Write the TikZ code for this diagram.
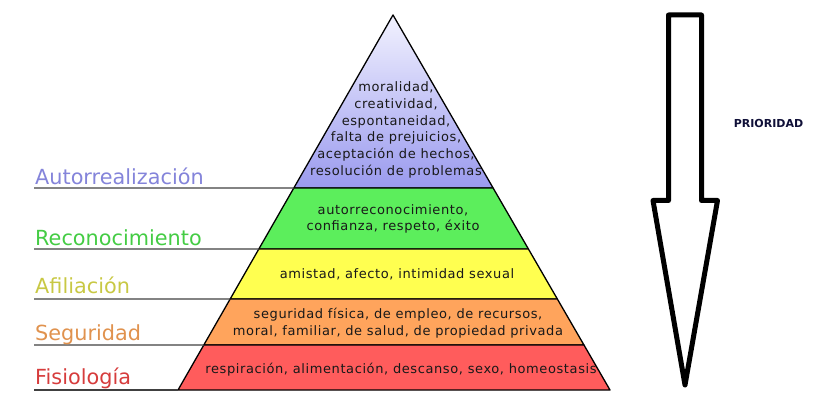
\documentclass[tikz,border=0pt]{standalone}
\usepackage{fontspec}
\setmainfont{DejaVu Sans}
\usetikzlibrary{calc}
\definecolor{selfblue}{HTML}{9A9AEE}
\definecolor{selfpale}{HTML}{F2F2FF}
\definecolor{estgreen}{HTML}{5CEE5C}
\definecolor{estpale}{HTML}{9CF89C}
\definecolor{afyellow}{HTML}{FFFF50}
\definecolor{afpale}{HTML}{FFFF90}
\definecolor{segorange}{HTML}{FFA45C}
\definecolor{segpale}{HTML}{FFC088}
\definecolor{fisred}{HTML}{FF5C5C}
\definecolor{fispale}{HTML}{FF8A8A}
\definecolor{tagblue}{HTML}{8484DA}
\definecolor{taggreen}{HTML}{44CC44}
\definecolor{tagyellow}{HTML}{C8C844}
\definecolor{tagorange}{HTML}{E0924E}
\definecolor{tagred}{HTML}{D63C3C}
\definecolor{navy}{HTML}{101038}
\newfontfamily\needfont[LetterSpace=4.6]{DejaVu Sans}

\begin{document}
\begin{tikzpicture}[x=1pt,y=-1pt,line join=round,
  layer/.style={draw=black,line width=1.3pt},
  need/.style={font=\needfont\fontsize{13}{16.7}\selectfont,text=black!90,align=center,inner sep=0pt},
  tag/.style={font=\fontsize{20.8}{21}\selectfont,anchor=base west,inner sep=0pt},
  rule/.style={draw=black!75,line width=1.2pt}]
\useasboundingbox (0,0) rectangle (822,414);
\coordinate (top) at (393,15);
\coordinate (bl) at (178,390);
\coordinate (br) at (610,390);
\coordinate (l1) at ($(top)!0.4613!(bl)$);
\coordinate (r1) at ($(top)!0.4613!(br)$);
\coordinate (l2) at ($(top)!0.624!(bl)$);
\coordinate (r2) at ($(top)!0.624!(br)$);
\coordinate (l3) at ($(top)!0.7573!(bl)$);
\coordinate (r3) at ($(top)!0.7573!(br)$);
\coordinate (l4) at ($(top)!0.88!(bl)$);
\coordinate (r4) at ($(top)!0.88!(br)$);

\shadedraw[layer,top color=selfpale,bottom color=selfblue] (top) -- (r1) -- (l1) -- cycle;
\shadedraw[layer,left color=estgreen,middle color=estpale,right color=estgreen] (l1) -- (r1) -- (r2) -- (l2) -- cycle;
\shadedraw[layer,left color=afyellow,middle color=afpale,right color=afyellow] (l2) -- (r2) -- (r3) -- (l3) -- cycle;
\shadedraw[layer,left color=segorange,middle color=segpale,right color=segorange] (l3) -- (r3) -- (r4) -- (l4) -- cycle;
\shadedraw[layer,left color=fisred,middle color=fispale,right color=fisred] (l4) -- (r4) -- (br) -- (bl) -- cycle;

\node[need] (self) at (396,130) {moralidad,\\creatividad,\\espontaneidad,\\falta de prejuicios,\\aceptación de hechos,\\resolución de problemas};
\node[need] (est) at (393,219) {autorreconocimiento,\\confianza, respeto, éxito};
\node[need] (af) at (397,274) {amistad, afecto, intimidad sexual};
\node[need] (seg) at (398,323.5) {seguridad física, de empleo, de recursos,\\moral, familiar, de salud, de propiedad privada};
\node[need] (fis) at (401,370) {respiración, alimentación, descanso, sexo, homeostasis};

\coordinate (e1) at (34,188);
\coordinate (e2) at (34,249);
\coordinate (e3) at (34,299);
\coordinate (e4) at (34,345);
\coordinate (e5) at (34,390);
\draw[rule] (e1) -- (l1);
\draw[rule] (e2) -- (l2);
\draw[rule] (e3) -- (l3);
\draw[rule] (e4) -- (l4);
\draw[rule] (e5) -- (bl);

\node[tag,text=tagblue] (t1) at (35,185) {Autorrealización};
\node[tag,text=taggreen] (t2) at (35,245) {Reconocimiento};
\node[tag,text=tagyellow] (t3) at (35,293) {Afiliación};
\node[tag,text=tagorange] (t4) at (35,340) {Seguridad};
\node[tag,text=tagred] (t5) at (35,384) {Fisiología};

\draw[line width=5pt] (668.5,15) -- (701.5,15) -- (701.5,200.5) -- (717.5,200.5)
  -- (685,385) -- (653,200.5) -- (668.5,200.5) -- cycle;
\node[font=\bfseries\fontsize{11}{12}\selectfont,text=navy] (prio) at (768.5,123) {PRIORIDAD};
\end{tikzpicture}
\end{document}
